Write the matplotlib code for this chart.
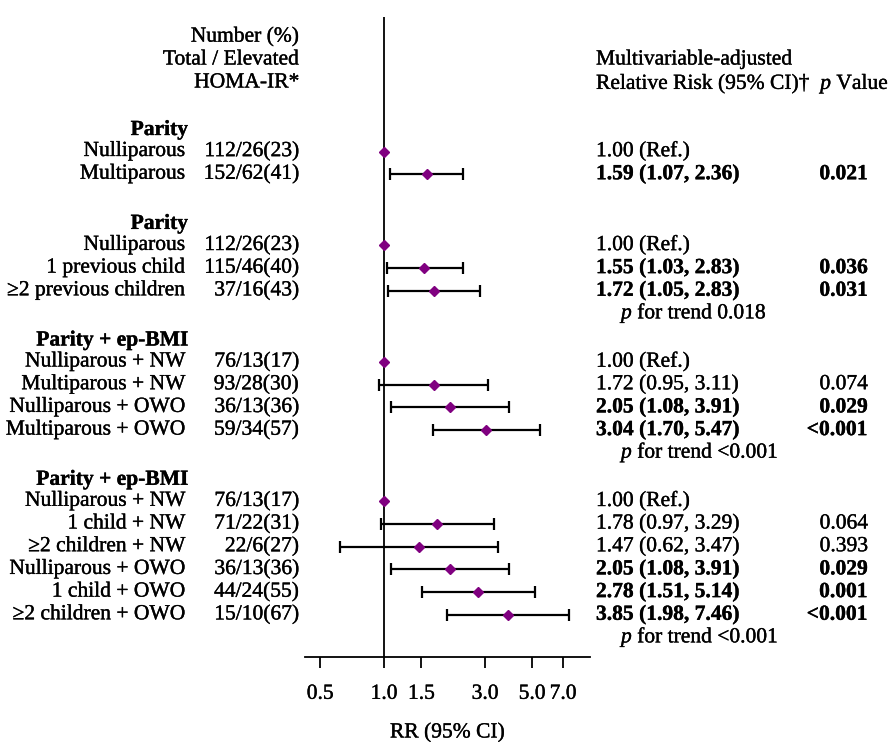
import numpy as np
import matplotlib
matplotlib.use("Agg")
import matplotlib.pyplot as plt
import matplotlib.transforms as mtransforms
import matplotlib.patheffects as pe

plt.rcParams['font.family'] = ['Liberation Serif', 'DejaVu Serif']
plt.rcParams['mathtext.fontset'] = 'custom'
plt.rcParams['mathtext.rm'] = 'Liberation Serif'
plt.rcParams['mathtext.it'] = 'Liberation Serif:italic'
plt.rcParams['mathtext.bf'] = 'Liberation Serif:bold'

# ------- DATA --------
group_titles = ["Parity", "Parity", "Parity + ep-BMI", "Parity + ep-BMI"]

labels_1 = ["Nulliparous", "Multiparous"]
counts_1 = ["112/26(23)", "152/62(41)"]
rr_1 = [1.00, 1.59]
lo_1 = [1.00, 1.07]
hi_1 = [1.00, 2.36]
rr_txt_1 = ["1.00 (Ref.)", "1.59 (1.07, 2.36)"]
p_txt_1 = ["", "0.021"]
bold_1 = [False, True]

labels_2 = ["Nulliparous", "1 previous child", "\u22652 previous children"]
counts_2 = ["112/26(23)", "115/46(40)", "37/16(43)"]
rr_2 = [1.00, 1.55, 1.72]
lo_2 = [1.00, 1.03, 1.05]
hi_2 = [1.00, 2.36, 2.83]
rr_txt_2 = ["1.00 (Ref.)", "1.55 (1.03, 2.83)", "1.72 (1.05, 2.83)"]
p_txt_2 = ["", "0.036", "0.031"]
bold_2 = [False, True, True]

labels_3 = ["Nulliparous + NW", "Multiparous + NW", "Nulliparous + OWO", "Multiparous + OWO"]
counts_3 = ["76/13(17)", "93/28(30)", "36/13(36)", "59/34(57)"]
rr_3 = [1.00, 1.72, 2.05, 3.04]
lo_3 = [1.00, 0.95, 1.08, 1.70]
hi_3 = [1.00, 3.11, 3.91, 5.47]
rr_txt_3 = ["1.00 (Ref.)", "1.72 (0.95, 3.11)", "2.05 (1.08, 3.91)", "3.04 (1.70, 5.47)"]
p_txt_3 = ["", "0.074", "0.029", "<0.001"]
bold_3 = [False, False, True, True]

labels_4 = ["Nulliparous + NW", "1 child + NW", "\u22652 children + NW",
            "Nulliparous + OWO", "1 child + OWO", "\u22652 children + OWO"]
counts_4 = ["76/13(17)", "71/22(31)", "22/6(27)", "36/13(36)", "44/24(55)", "15/10(67)"]
rr_4 = [1.00, 1.78, 1.47, 2.05, 2.78, 3.85]
lo_4 = [1.00, 0.97, 0.62, 1.08, 1.51, 1.98]
hi_4 = [1.00, 3.29, 3.47, 3.91, 5.14, 7.46]
rr_txt_4 = ["1.00 (Ref.)", "1.78 (0.97, 3.29)", "1.47 (0.62, 3.47)",
            "2.05 (1.08, 3.91)", "2.78 (1.51, 5.14)", "3.85 (1.98, 7.46)"]
p_txt_4 = ["", "0.064", "0.393", "0.029", "0.001", "<0.001"]
bold_4 = [False, False, False, True, True, True]

trend_txt = ["", "0.018", "<0.001", "<0.001"]

xticks = [0.5, 1.0, 1.5, 3.0, 5.0, 7.0]
xtick_labels = ["0.5", "1.0", "1.5", "3.0", "5.0", "7.0"]

groups = [
    (labels_1, counts_1, rr_1, lo_1, hi_1, rr_txt_1, p_txt_1, bold_1),
    (labels_2, counts_2, rr_2, lo_2, hi_2, rr_txt_2, p_txt_2, bold_2),
    (labels_3, counts_3, rr_3, lo_3, hi_3, rr_txt_3, p_txt_3, bold_3),
    (labels_4, counts_4, rr_4, lo_4, hi_4, rr_txt_4, p_txt_4, bold_4),
]

# ------- PLOT --------
W, H = 894, 742
fig = plt.figure(figsize=(W / 100, H / 100), dpi=100)
ax = fig.add_axes([305 / W, (H - 657) / H, (590 - 305) / W, (657 - 17) / H])
ax.set_xscale('log')
ax.set_xlim(0.424, 9.38)
ax.set_ylim(657, 17)   # y in pixel-like units, top to bottom

tr = mtransforms.blended_transform_factory(fig.transFigure, ax.transData)
fs = 15.5
heavy = [pe.withStroke(linewidth=0.25, foreground='black')]

def txt(xpx, y, s, ha='left', weight='normal'):
    ax.text(xpx / W, y, s, transform=tr, ha=ha, va='center', fontsize=fs,
            fontweight=weight, clip_on=False, path_effects=heavy)

# headers
txt(299, 37, "Number (%)", ha='right')
txt(299, 60, "Total / Elevated", ha='right')
txt(299, 83, "HOMA-IR*", ha='right')
txt(596, 60, "Multivariable-adjusted")
txt(596, 84, "Relative Risk (95% CI)\u2020  $p$ Value")

# vertical reference line at 1
ax.axvline(1.0, color='black', lw=1.3, zorder=1)

y = 130
for gi, (labs, cnts, rr, lo, hi, rtxt, ptxt, bold) in enumerate(groups):
    txt(188, y, group_titles[gi], ha='right', weight='bold')
    y += 21.5
    for i in range(len(labs)):
        w = 'bold' if bold[i] else 'normal'
        txt(185, y, labs[i], ha='right')
        txt(299, y, cnts[i], ha='right')
        txt(596, y, rtxt[i], weight=w)
        if ptxt[i]:
            txt(868, y, ptxt[i], ha='right', weight=w)
        if lo[i] != hi[i]:
            ax.errorbar(rr[i], y, xerr=[[rr[i] - lo[i]], [hi[i] - rr[i]]],
                        fmt='none', ecolor='black', elinewidth=1.6,
                        capsize=4.3, capthick=1.6, zorder=2)
        ax.plot(rr[i], y, marker='D', color='#800080', markersize=5.5,
                linestyle='none', zorder=3)
        y += 22.7
    if trend_txt[gi]:
        txt(621, y, "$p$ for trend " + trend_txt[gi])
    y += 22.7 + 4.3

for side in ['top', 'left', 'right']:
    ax.spines[side].set_visible(False)
ax.spines['bottom'].set_linewidth(1.3)
ax.set_yticks([])
ax.set_xticks(xticks)
ax.set_xticklabels(xtick_labels, fontsize=fs)
for lab in ax.get_xticklabels():
    lab.set_path_effects(heavy)
ax.xaxis.set_minor_locator(matplotlib.ticker.NullLocator())
ax.tick_params(axis='x', direction='out', length=8, width=1.3, pad=12)
ax.set_xlabel("RR (95% CI)", fontsize=fs, labelpad=14, path_effects=heavy)

fig.savefig("out.png", dpi=100)
